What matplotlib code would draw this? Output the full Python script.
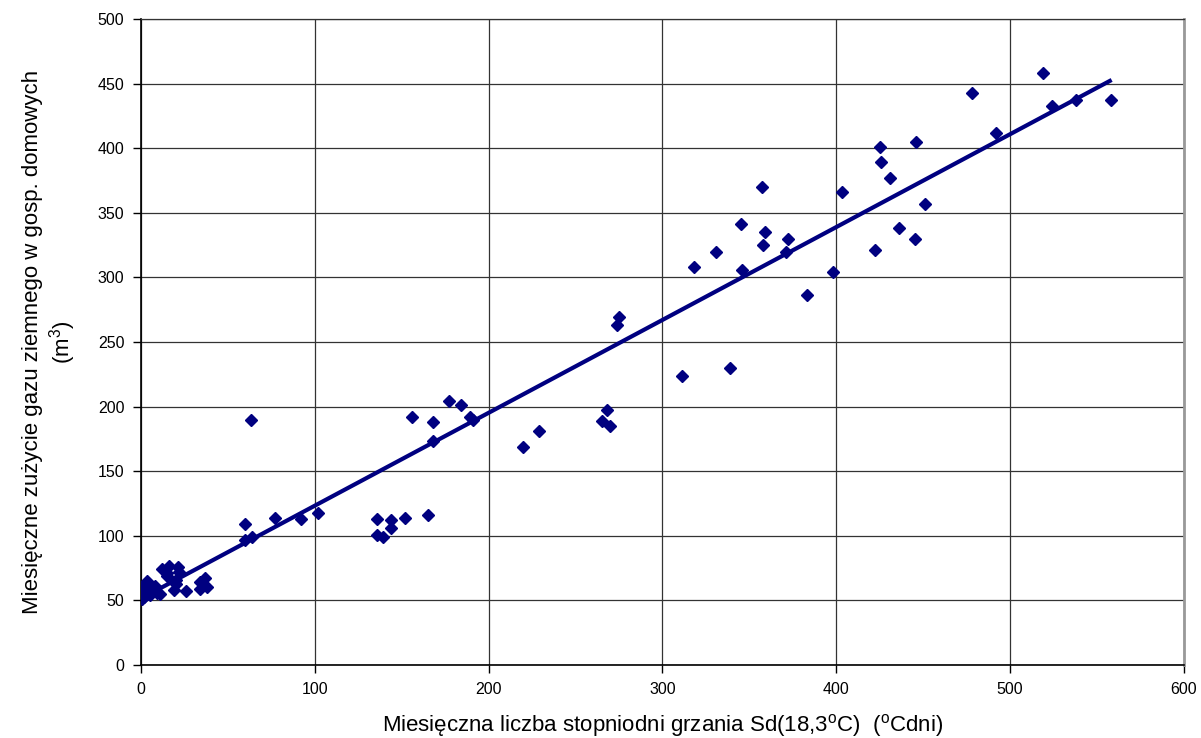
import matplotlib.pyplot as plt

plt.rcParams['font.family'] = ['Liberation Sans', 'DejaVu Sans']

# odczytane punkty: stopniodni (x) i zuzycie gazu (y)
sd = [0.5, 1, 1.5, 2, 2.5, 3, 3.5, 4, 5, 6, 7, 8, 9, 11,
      12, 15, 16, 15, 21, 22, 20, 19, 20, 26, 34, 34, 37, 38,
      60, 60, 64, 63, 77, 92, 102,
      136, 136, 139, 144, 144, 152, 156, 165, 168, 168, 177, 184, 189, 191,
      220, 229, 265, 268, 270, 274, 275,
      311, 318, 331, 339, 346, 345, 357, 358, 359, 372, 371, 383, 398, 403,
      422, 425, 426, 431, 436, 445, 446, 451,
      478, 492, 519, 524, 538, 558]
gas = [51, 55, 60, 53, 63, 58, 65, 56, 54, 60, 57, 61, 56, 55,
       74, 71, 77, 69, 76, 72, 66, 58, 63, 57, 64, 59, 67, 60,
       109, 97, 99, 190, 114, 113, 118,
       113, 101, 99, 112, 106, 114, 192, 116, 188, 173, 204, 201, 192, 190,
       169, 181, 189, 197, 185, 263, 269,
       224, 308, 320, 230, 306, 341, 370, 325, 335, 330, 320, 286, 304, 366,
       321, 401, 389, 377, 338, 330, 405, 357,
       443, 412, 458, 433, 437, 437]

# linia trendu (koncowe punkty)
trend_x = [0.5, 558.4]
trend_y = [51.8, 452.8]

fig = plt.figure(figsize=(12.01, 7.38), dpi=100)
ax = fig.add_axes([0.1174, 0.0989, 0.9858 - 0.1174, 0.9743 - 0.0989])

ax.plot(trend_x, trend_y, color='#000080', lw=3, solid_capstyle='butt', zorder=3)
ax.plot(sd, gas, 'D', color='#000080', markersize=6, zorder=4)

ax.set_xlim(0, 600)
ax.set_ylim(0, 500)
ax.set_xticks(range(0, 601, 100))
ax.set_yticks(range(0, 501, 50))
ax.grid(True, color='#333333', lw=0.9)
ax.set_axisbelow(True)
ax.tick_params(direction='out', length=6, width=1, labelsize=11.5, pad=6)
for s in ['left', 'bottom']:
    ax.spines[s].set_color('black')
    ax.spines[s].set_linewidth(1.2)
ax.spines['top'].set_color('#333333')
ax.spines['top'].set_linewidth(0.9)
ax.spines['right'].set_color('#999999')
ax.spines['right'].set_linewidth(2)

ax.set_xlabel('Miesięczna liczba stopniodni grzania Sd(18,3$^{\\mathregular{o}}$C)  ($^{\\mathregular{o}}$Cdni)',
              fontsize=16, labelpad=11)
ax.set_ylabel('Miesięczne zużycie gazu ziemnego w gosp. domowych\n(m$^{\\mathregular{3}}$)',
              fontsize=16, labelpad=14, linespacing=1.2)

plt.savefig('out.png')
